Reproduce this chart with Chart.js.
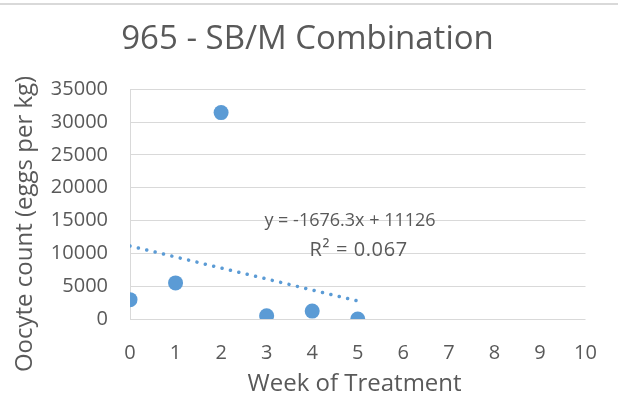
<!DOCTYPE html>
<html>
<head>
<meta charset="utf-8">
<script src="https://cdn.jsdelivr.net/npm/chart.js@4"></script>
<style>
  html, body { margin: 0; padding: 0; background: #fff; }
  #wrap { position: relative; width: 623px; height: 402px; }
  #topline { position: absolute; left: 0; top: 3px; width: 618px; height: 2px; background: #d9d9d9; }
  canvas { position: absolute; left: 0; top: 0; }
</style>
</head>
<body>
<div id="wrap">
  <canvas id="c" width="623" height="402"></canvas>
  <div id="topline"></div>
</div>
<script>
const weeks = [0, 1, 2, 3, 4, 5];
const oocyteCounts = [2950, 5500, 31450, 500, 1200, 0];
const xTicks = [0, 1, 2, 3, 4, 5, 6, 7, 8, 9, 10];
const yTicks = [0, 5000, 10000, 15000, 20000, 25000, 30000, 35000];
const trendSlope = -1676.3;
const trendIntercept = 11126;
const trendRange = [0, 5];
const equationLines = ['y = -1676.3x + 11126', 'R\u00b2 = 0.067'];
const titleText = '965 - SB/M Combination';
const xTitle = 'Week of Treatment';
const yTitle = 'Oocyte count (eggs per kg)';

const FONT = "'Open Sans', sans-serif";
const GREY = '#595959';
const BLUE = '#5B9BD5';

const points = weeks.map((w, i) => ({ x: w, y: oocyteCounts[i] }));
const trend = trendRange.map(x => ({ x: x, y: trendSlope * x + trendIntercept }));

const textPlugin = {
  id: 'texts',
  afterDraw(chart) {
    const { ctx, scales: { x, y } } = chart;
    ctx.save();
    ctx.fillStyle = GREY;
    ctx.textAlign = 'center';
    ctx.textBaseline = 'middle';
    // chart title
    ctx.font = "33px " + FONT;
    ctx.fillText(titleText, 307.5, 40);
    // x axis title
    ctx.font = "24px " + FONT;
    ctx.fillText(xTitle, x.getPixelForValue(4.93), 384);
    // y axis title
    ctx.save();
    ctx.translate(25, y.getPixelForValue(14480));
    ctx.rotate(-Math.PI / 2);
    ctx.fillText(yTitle, 0, 0);
    ctx.restore();
    // trendline equation
    ctx.font = "18px " + FONT;
    ctx.fillText(equationLines[0], x.getPixelForValue(4.83), y.getPixelForValue(15000));
    ctx.font = "20px " + FONT;
    ctx.letterSpacing = '0.6px';
    ctx.fillText(equationLines[1], x.getPixelForValue(5.02), y.getPixelForValue(10500));
    ctx.restore();
  }
};

new Chart(document.getElementById('c'), {
  type: 'scatter',
  data: {
    datasets: [
      {
        label: 'Oocyte count',
        data: points,
        backgroundColor: BLUE,
        borderColor: BLUE,
        pointRadius: 7.5,
        pointHoverRadius: 7.5,
        borderWidth: 0,
        order: 1
      },
      {
        type: 'line',
        label: 'Linear trend',
        data: trend,
        borderColor: BLUE,
        borderWidth: 3.5,
        borderDash: [0.01, 8.6],
        borderCapStyle: 'round',
        pointRadius: 0,
        fill: false,
        order: 2
      }
    ]
  },
  options: {
    responsive: false,
    animation: false,
    events: [],
    layout: { padding: { left: 0, right: 37.5, top: 89.3, bottom: 0 } },
    plugins: {
      legend: { display: false },
      tooltip: { enabled: false },
      title: { display: false }
    },
    scales: {
      x: {
        type: 'linear',
        min: 0,
        max: 10,
        afterBuildTicks: s => { s.ticks = xTicks.map(v => ({ value: v })); },
        afterFit: s => { s.height = 83; },
        grid: { display: false, drawTicks: false },
        border: { display: false },
        ticks: { color: GREY, font: { family: FONT, size: 20 }, padding: 22 }
      },
      y: {
        type: 'linear',
        min: 0,
        max: 35000,
        afterBuildTicks: s => { s.ticks = yTicks.map(v => ({ value: v })); },
        afterFit: s => { s.width = 130; },
        grid: { color: '#d9d9d9', lineWidth: 1, drawTicks: false },
        border: { display: true, color: '#d9d9d9', width: 1 },
        ticks: { color: GREY, font: { family: FONT, size: 20 }, padding: 22, callback: v => String(v) }
      }
    }
  },
  plugins: [textPlugin]
});
</script>
</body>
</html>
